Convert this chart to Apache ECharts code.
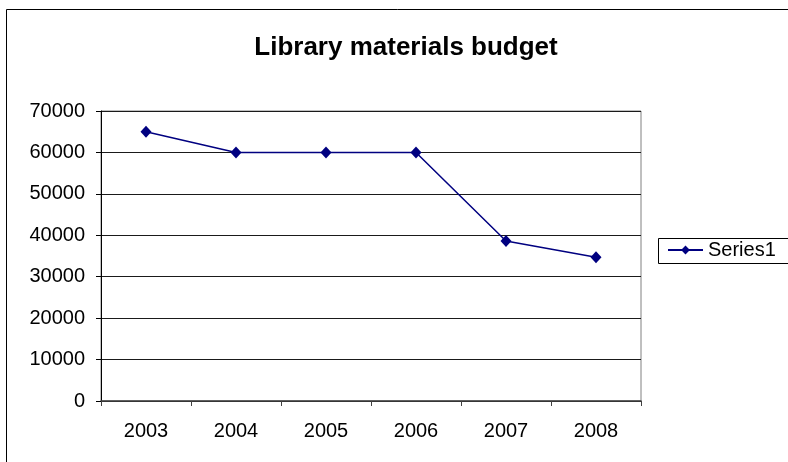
<!DOCTYPE html>
<html>
<head>
<meta charset="utf-8">
<script src="https://cdn.jsdelivr.net/npm/echarts@6/dist/echarts.min.js"></script>
<style>
  html, body { margin: 0; padding: 0; background: #fff; overflow: hidden; }
  #chart { width: 788px; height: 462px; }
</style>
</head>
<body>
<div id="chart"></div>
<script>
// Annual library materials budget, 2003-2008
const years = ['2003', '2004', '2005', '2006', '2007', '2008'];
const budget = [65000, 60000, 60000, 60000, 38600, 34700];
const seriesName = 'Series1';
const chartTitle = 'Library materials budget';

const font = 'Arial, "Liberation Sans", sans-serif';
const chart = echarts.init(document.getElementById('chart'), null, { renderer: 'canvas' });

chart.setOption({
  backgroundColor: '#ffffff',
  animation: false,
  title: {
    text: chartTitle,
    left: 401,
    textAlign: 'center',
    top: 30,
    textStyle: { fontFamily: font, fontSize: 26, fontWeight: 'bold', color: '#000' }
  },
  graphic: [
    {
      // outer chart frame (continues past the right and bottom edges)
      type: 'polyline',
      shape: { points: [[900, 9.5], [6.5, 9.5], [6.5, 600]] },
      style: { fill: 'none', stroke: '#000', lineWidth: 1 },
      silent: true
    },
    {
      // legend frame, open towards the right edge
      type: 'polyline',
      shape: { points: [[900, 238.5], [658.5, 238.5], [658.5, 263.5], [900, 263.5]] },
      style: { fill: 'none', stroke: '#000', lineWidth: 1 },
      silent: true
    }
  ],
  legend: {
    data: [seriesName],
    left: 658,
    top: 238,
    orient: 'vertical',
    itemWidth: 35,
    itemHeight: 11,
    itemGap: 0,
    padding: [2, 0, 2, 9],
    textStyle: { fontFamily: font, fontSize: 20, color: '#000' }
  },
  grid: {
    left: 101,
    right: 147,
    top: 111,
    bottom: 61,
    show: true,
    borderColor: '#808080',
    borderWidth: 1,
    backgroundColor: 'transparent'
  },
  xAxis: {
    type: 'category',
    data: years,
    boundaryGap: true,
    axisLine: { lineStyle: { color: '#404040', width: 1.5 } },
    axisTick: { show: true, inside: false, length: 5, alignWithLabel: false, lineStyle: { color: '#404040' } },
    axisLabel: { fontFamily: font, fontSize: 20, color: '#000', margin: 20 },
    splitLine: { show: false }
  },
  yAxis: {
    type: 'value',
    min: 0,
    max: 70000,
    interval: 10000,
    axisLine: { show: true, lineStyle: { color: '#000', width: 1 } },
    axisTick: { show: true, inside: false, length: 5, lineStyle: { color: '#000' } },
    axisLabel: {
      fontFamily: font, fontSize: 20, color: '#000', margin: 16,
      formatter: function (v) { return String(v); }
    },
    splitLine: { show: true, lineStyle: { color: '#1a1a1a', width: 1 } }
  },
  series: [{
    name: seriesName,
    type: 'line',
    data: budget,
    symbol: 'diamond',
    symbolSize: [11, 12],
    showAllSymbol: true,
    lineStyle: { color: '#000080', width: 1.5 },
    itemStyle: { color: '#000080' }
  }]
});
</script>
</body>
</html>
